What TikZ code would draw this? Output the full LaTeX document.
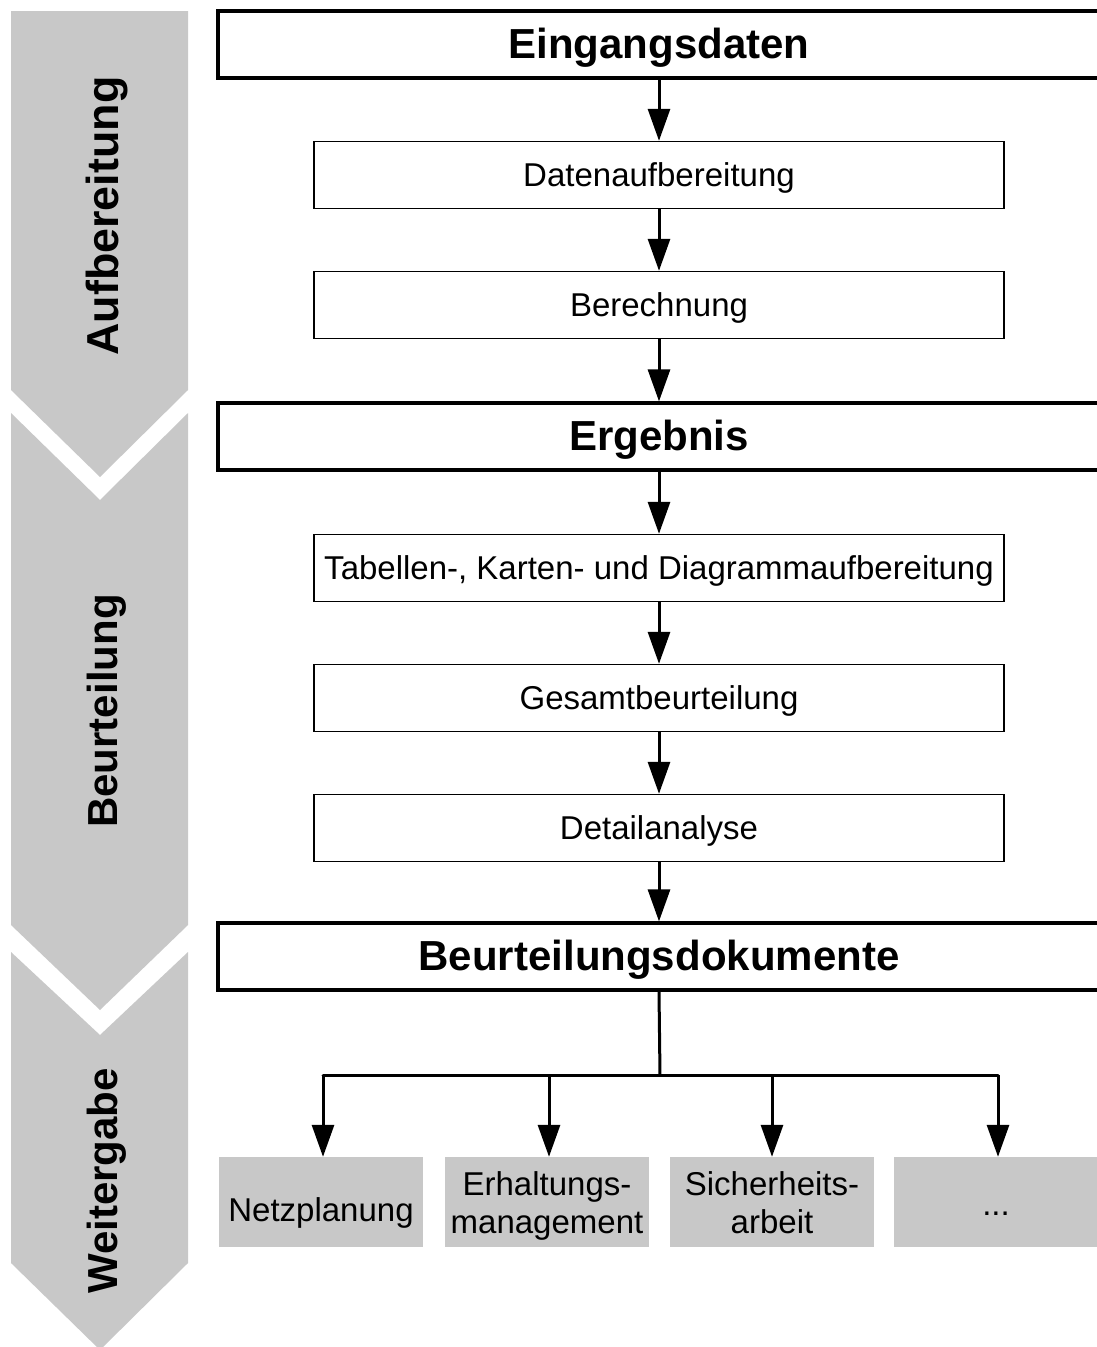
\documentclass[tikz,border=0pt]{standalone}
\usepackage{fontspec}
\setmainfont{Liberation Sans}
\usetikzlibrary{arrows.meta}
\definecolor{band}{RGB}{200,200,200}
\begin{document}
\begin{tikzpicture}[x=1pt,y=-1pt,
  bigbox/.style={draw,line width=3.2pt,minimum width=882pt,minimum height=67pt,inner sep=0pt,
    text height=31.5pt,text depth=4.5pt,font=\fontsize{42}{48}\selectfont\bfseries},
  stepbox/.style={draw,line width=1.4pt,minimum width=690pt,minimum height=67pt,inner sep=0pt,
    text height=25pt,text depth=3pt,font=\fontsize{33}{39}\selectfont},
  outbox/.style={fill=band,minimum width=204pt,minimum height=90pt,inner sep=0pt,align=center,
    font=\fontsize{33}{38}\selectfont},
  oneline/.style={text height=38pt,text depth=0pt},
  twoline/.style={text height=62pt,text depth=0pt},
  phase/.style={rotate=90,font=\fontsize{42}{48}\selectfont\bfseries},
  ln/.style={line width=3pt},
  arr/.style={line width=3pt,-{Triangle[width=22pt,length=32pt]}}]
\useasboundingbox (0,0) rectangle (1097,1347);

% phase bands
\fill[band] (11,11) -- (188,11) -- (188,390) -- (100,477) -- (11,390) -- cycle;
\fill[band] (11,413) -- (100,500) -- (188,413) -- (188,925) -- (100,1010) -- (11,925) -- cycle;
\fill[band] (11,952) -- (100,1035) -- (188,952) -- (188,1263) -- (100,1350) -- (11,1263) -- cycle;
\node[phase,font=\fontsize{44.8}{50}\selectfont\bfseries] (p1) at (107,216) {Aufbereitung};
\node[phase] (p2) at (107,711) {Beurteilung};
\node[phase] (p3) at (107,1181) {Weitergabe};

% main flow
\node[bigbox] (ein) at (659,44.5) {Eingangsdaten};
\node[stepbox] (dat) at (659,175) {Datenaufbereitung};
\node[stepbox] (ber) at (659,305) {Berechnung};
\node[bigbox] (erg) at (659,436.5) {Ergebnis};
\node[stepbox] (tab) at (659,568) {Tabellen-, Karten- und Diagrammaufbereitung};
\node[stepbox] (ges) at (659,698) {Gesamtbeurteilung};
\node[stepbox] (det) at (659,828) {Detailanalyse};
\node[bigbox] (dok) at (659,956.5) {Beurteilungsdokumente};

\draw[arr] (ein) -- (dat);
\draw[arr] (dat) -- (ber);
\draw[arr] (ber) -- (erg);
\draw[arr] (erg) -- (tab);
\draw[arr] (tab) -- (ges);
\draw[arr] (ges) -- (det);
\draw[arr] (det) -- (dok);

% distribution
\node[outbox,oneline] (o1) at (321,1202) {Netzplanung};
\node[outbox,twoline] (o2) at (547,1202) {Erhaltungs-\\management};
\node[outbox,twoline] (o3) at (772,1202) {Sicherheits-\\arbeit};
\node[outbox,text height=26pt,text depth=0pt] (o4) at (996,1202) {...};

\coordinate (bus) at (660,1075);
\coordinate (b1) at (323,1075);
\coordinate (b2) at (549,1075);
\coordinate (b3) at (772,1075);
\coordinate (b4) at (998,1075);
\draw[ln] (dok.south) -- (bus);
\draw[ln,line cap=round] (b1) -- (b4);
\draw[arr] (b1) -- (b1 |- o1.north);
\draw[arr] (b2) -- (b2 |- o2.north);
\draw[arr] (b3) -- (b3 |- o3.north);
\draw[arr] (b4) -- (b4 |- o4.north);
\end{tikzpicture}
\end{document}
